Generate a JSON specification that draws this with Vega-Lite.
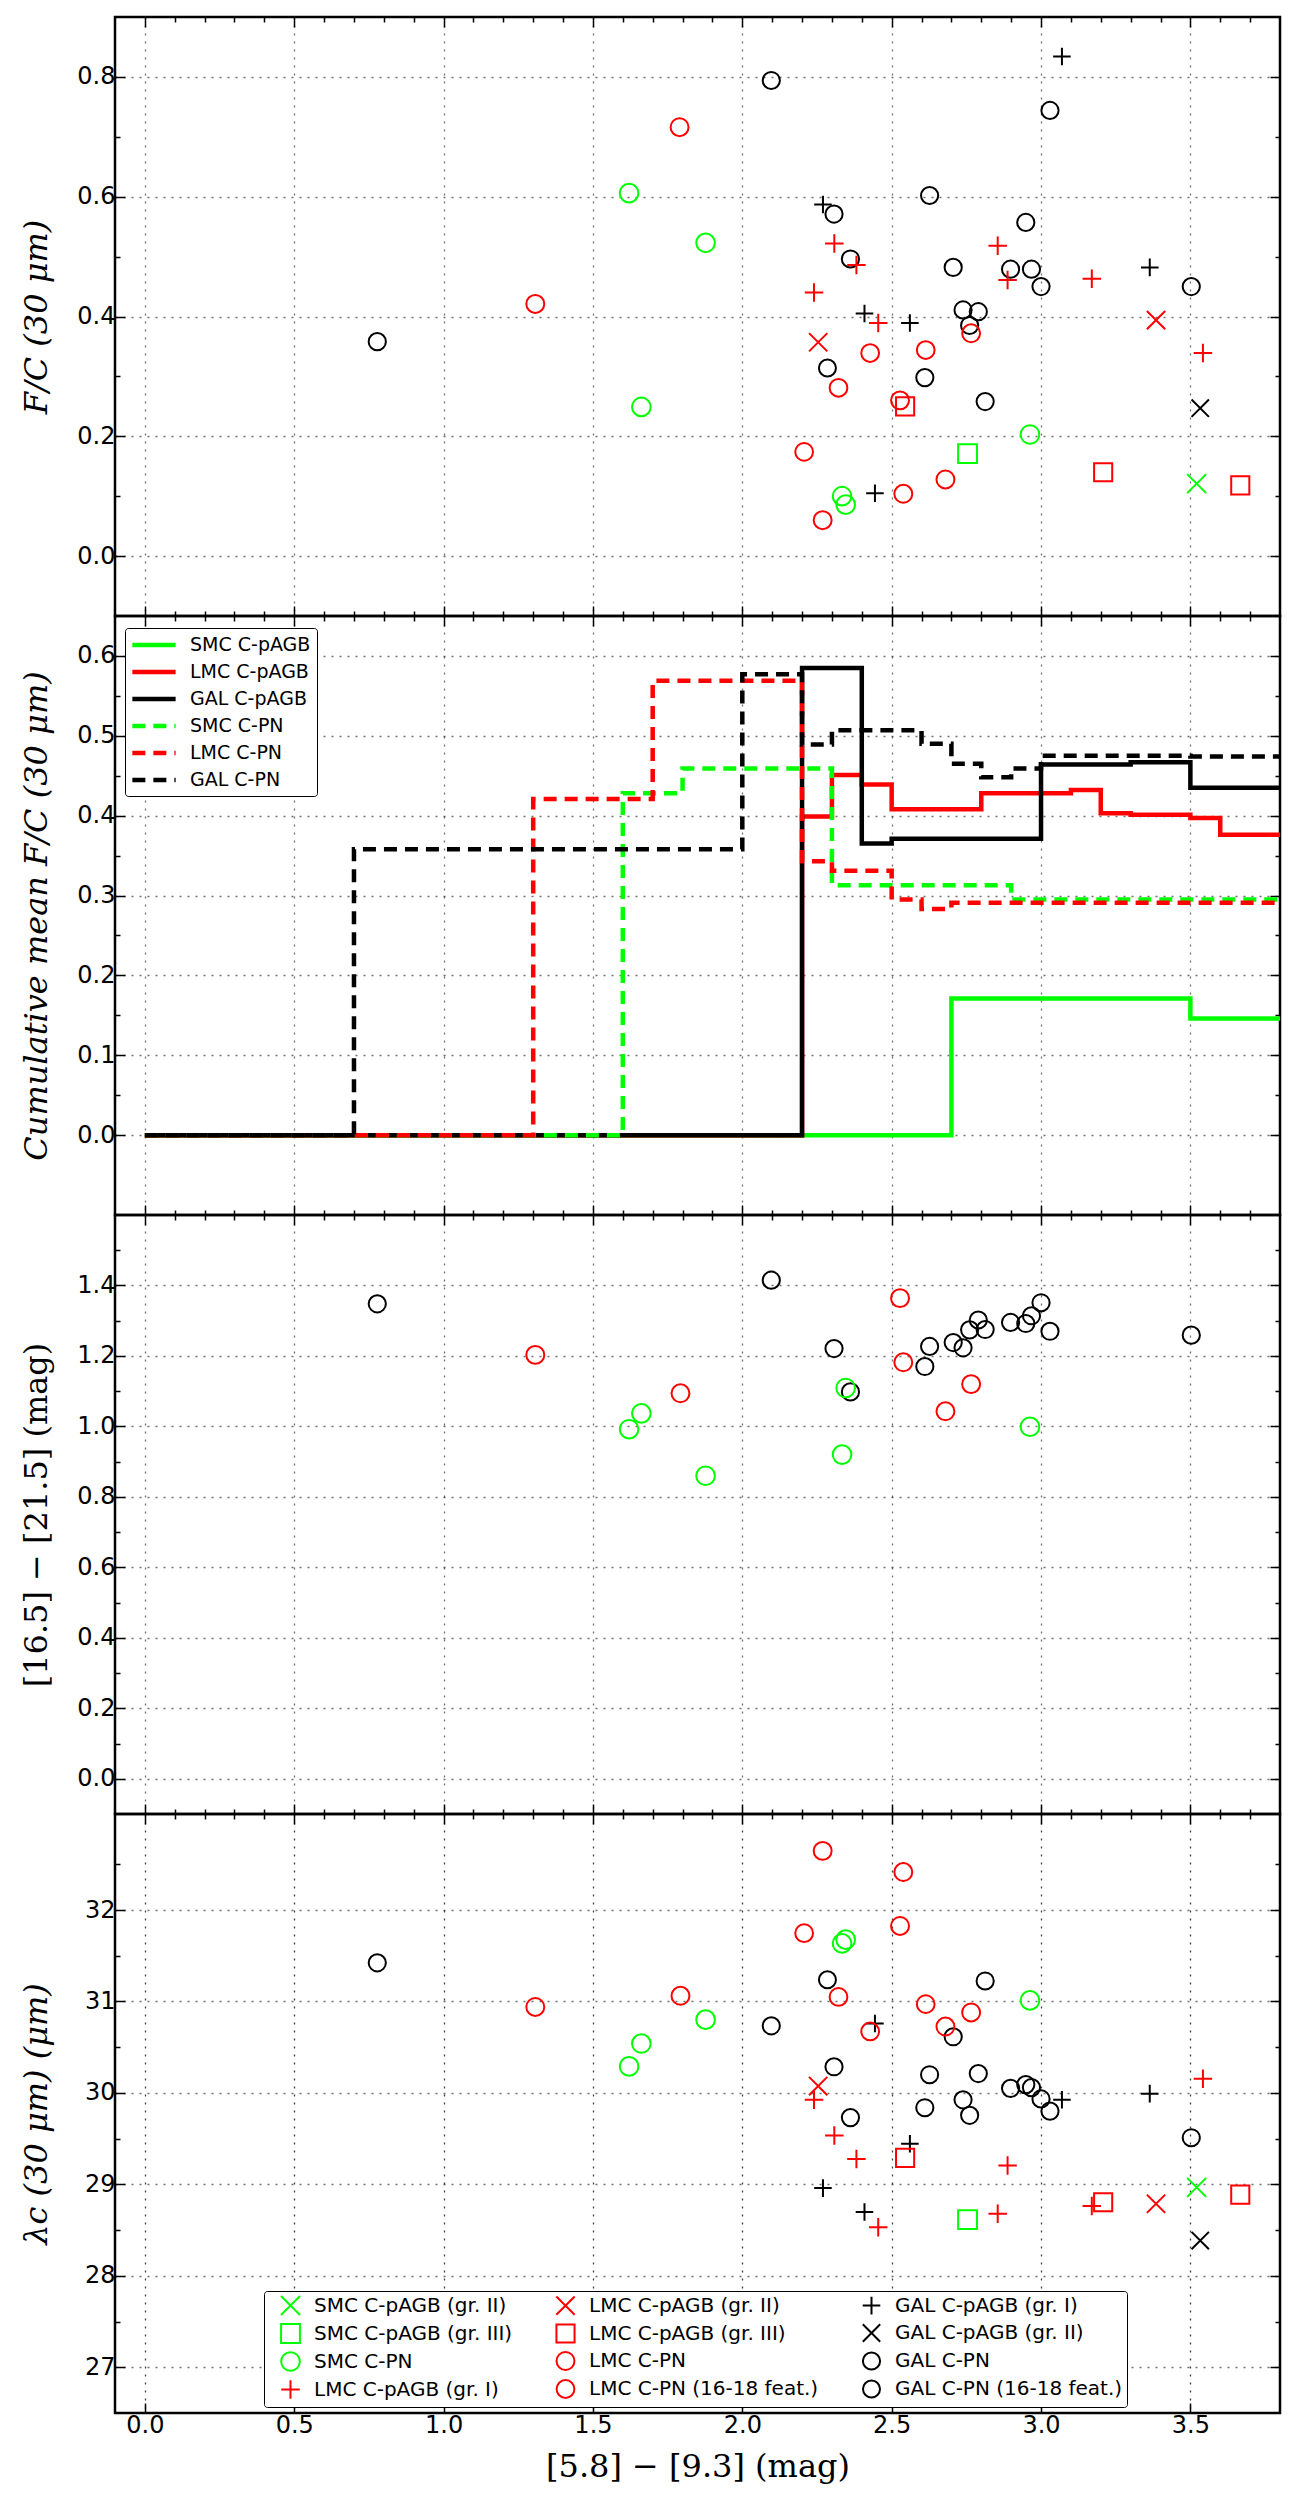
{
  "$schema": "https://vega.github.io/schema/vega-lite/v6.json",
  "background": "white",
  "padding": {"left": 18, "top": 15, "right": 12, "bottom": 5},
  "spacing": 0,
  "bounds": "flush",
  "datasets": {
    "p1": [
      {"x": 0.778, "y": 0.358, "cat": "GAL C-PN"}, {"x": 2.097, "y": 0.794, "cat": "GAL C-PN"}, {"x": 2.307, "y": 0.571, "cat": "GAL C-PN"}, {"x": 2.362, "y": 0.496, "cat": "GAL C-PN"}, {"x": 2.611, "y": 0.298, "cat": "GAL C-PN"}, {"x": 2.627, "y": 0.602, "cat": "GAL C-PN"}, {"x": 2.706, "y": 0.482, "cat": "GAL C-PN"}, {"x": 2.739, "y": 0.411, "cat": "GAL C-PN"}, {"x": 2.761, "y": 0.385, "cat": "GAL C-PN"}, {"x": 2.790, "y": 0.408, "cat": "GAL C-PN"}, {"x": 2.813, "y": 0.258, "cat": "GAL C-PN"}, {"x": 2.898, "y": 0.479, "cat": "GAL C-PN"}, {"x": 2.949, "y": 0.557, "cat": "GAL C-PN"}, {"x": 2.968, "y": 0.479, "cat": "GAL C-PN"}, {"x": 3.000, "y": 0.450, "cat": "GAL C-PN"}, {"x": 3.030, "y": 0.744, "cat": "GAL C-PN"}, {"x": 3.503, "y": 0.450, "cat": "GAL C-PN"},
      {"x": 2.285, "y": 0.314, "cat": "GAL C-PN (16-18 feat.)"},
      {"x": 2.270, "y": 0.587, "cat": "GAL C-pAGB (gr. I)"}, {"x": 2.409, "y": 0.405, "cat": "GAL C-pAGB (gr. I)"}, {"x": 2.444, "y": 0.105, "cat": "GAL C-pAGB (gr. I)"}, {"x": 2.561, "y": 0.389, "cat": "GAL C-pAGB (gr. I)"}, {"x": 3.070, "y": 0.834, "cat": "GAL C-pAGB (gr. I)"}, {"x": 3.364, "y": 0.482, "cat": "GAL C-pAGB (gr. I)"},
      {"x": 3.533, "y": 0.247, "cat": "GAL C-pAGB (gr. II)"},
      {"x": 1.307, "y": 0.421, "cat": "LMC C-PN"}, {"x": 1.790, "y": 0.716, "cat": "LMC C-PN"}, {"x": 2.269, "y": 0.060, "cat": "LMC C-PN"}, {"x": 2.528, "y": 0.260, "cat": "LMC C-PN"}, {"x": 2.539, "y": 0.104, "cat": "LMC C-PN"}, {"x": 2.680, "y": 0.128, "cat": "LMC C-PN"}, {"x": 2.766, "y": 0.372, "cat": "LMC C-PN"},
      {"x": 2.207, "y": 0.174, "cat": "LMC C-PN (16-18 feat.)"}, {"x": 2.322, "y": 0.281, "cat": "LMC C-PN (16-18 feat.)"}, {"x": 2.428, "y": 0.339, "cat": "LMC C-PN (16-18 feat.)"}, {"x": 2.614, "y": 0.344, "cat": "LMC C-PN (16-18 feat.)"},
      {"x": 2.240, "y": 0.440, "cat": "LMC C-pAGB (gr. I)"}, {"x": 2.308, "y": 0.522, "cat": "LMC C-pAGB (gr. I)"}, {"x": 2.382, "y": 0.486, "cat": "LMC C-pAGB (gr. I)"}, {"x": 2.455, "y": 0.389, "cat": "LMC C-pAGB (gr. I)"}, {"x": 2.855, "y": 0.518, "cat": "LMC C-pAGB (gr. I)"}, {"x": 2.888, "y": 0.461, "cat": "LMC C-pAGB (gr. I)"}, {"x": 3.170, "y": 0.463, "cat": "LMC C-pAGB (gr. I)"}, {"x": 3.542, "y": 0.339, "cat": "LMC C-pAGB (gr. I)"},
      {"x": 2.254, "y": 0.357, "cat": "LMC C-pAGB (gr. II)"}, {"x": 3.385, "y": 0.394, "cat": "LMC C-pAGB (gr. II)"},
      {"x": 2.545, "y": 0.250, "cat": "LMC C-pAGB (gr. III)"}, {"x": 3.208, "y": 0.140, "cat": "LMC C-pAGB (gr. III)"}, {"x": 3.667, "y": 0.118, "cat": "LMC C-pAGB (gr. III)"},
      {"x": 1.621, "y": 0.606, "cat": "SMC C-PN"}, {"x": 1.662, "y": 0.249, "cat": "SMC C-PN"}, {"x": 1.877, "y": 0.523, "cat": "SMC C-PN"}, {"x": 2.334, "y": 0.100, "cat": "SMC C-PN"}, {"x": 2.346, "y": 0.086, "cat": "SMC C-PN"}, {"x": 2.963, "y": 0.203, "cat": "SMC C-PN"},
      {"x": 3.521, "y": 0.121, "cat": "SMC C-pAGB (gr. II)"},
      {"x": 2.754, "y": 0.171, "cat": "SMC C-pAGB (gr. III)"}
    ],
    "p3": [
      {"x": 0.778, "y": 1.348, "cat": "GAL C-PN"}, {"x": 2.097, "y": 1.415, "cat": "GAL C-PN"}, {"x": 2.307, "y": 1.221, "cat": "GAL C-PN"}, {"x": 2.362, "y": 1.098, "cat": "GAL C-PN"}, {"x": 2.611, "y": 1.170, "cat": "GAL C-PN"}, {"x": 2.627, "y": 1.227, "cat": "GAL C-PN"}, {"x": 2.706, "y": 1.238, "cat": "GAL C-PN"}, {"x": 2.739, "y": 1.223, "cat": "GAL C-PN"}, {"x": 2.761, "y": 1.274, "cat": "GAL C-PN"}, {"x": 2.790, "y": 1.302, "cat": "GAL C-PN"}, {"x": 2.813, "y": 1.275, "cat": "GAL C-PN"}, {"x": 2.898, "y": 1.295, "cat": "GAL C-PN"}, {"x": 2.949, "y": 1.292, "cat": "GAL C-PN"}, {"x": 2.968, "y": 1.314, "cat": "GAL C-PN"}, {"x": 3.000, "y": 1.351, "cat": "GAL C-PN"}, {"x": 3.030, "y": 1.270, "cat": "GAL C-PN"}, {"x": 3.503, "y": 1.259, "cat": "GAL C-PN"},
      {"x": 1.307, "y": 1.203, "cat": "LMC C-PN"}, {"x": 1.793, "y": 1.094, "cat": "LMC C-PN"}, {"x": 2.528, "y": 1.364, "cat": "LMC C-PN"}, {"x": 2.539, "y": 1.182, "cat": "LMC C-PN"}, {"x": 2.680, "y": 1.043, "cat": "LMC C-PN"}, {"x": 2.766, "y": 1.120, "cat": "LMC C-PN"},
      {"x": 1.621, "y": 0.992, "cat": "SMC C-PN"}, {"x": 1.662, "y": 1.037, "cat": "SMC C-PN"}, {"x": 1.877, "y": 0.860, "cat": "SMC C-PN"}, {"x": 2.334, "y": 0.920, "cat": "SMC C-PN"}, {"x": 2.346, "y": 1.109, "cat": "SMC C-PN"}, {"x": 2.963, "y": 0.999, "cat": "SMC C-PN"}
    ],
    "p4": [
      {"x": 0.778, "y": 31.423, "cat": "GAL C-PN"}, {"x": 2.097, "y": 30.734, "cat": "GAL C-PN"}, {"x": 2.307, "y": 30.286, "cat": "GAL C-PN"}, {"x": 2.362, "y": 29.730, "cat": "GAL C-PN"}, {"x": 2.611, "y": 29.838, "cat": "GAL C-PN"}, {"x": 2.627, "y": 30.199, "cat": "GAL C-PN"}, {"x": 2.706, "y": 30.614, "cat": "GAL C-PN"}, {"x": 2.739, "y": 29.925, "cat": "GAL C-PN"}, {"x": 2.761, "y": 29.755, "cat": "GAL C-PN"}, {"x": 2.790, "y": 30.212, "cat": "GAL C-PN"}, {"x": 2.813, "y": 31.224, "cat": "GAL C-PN"}, {"x": 2.898, "y": 30.050, "cat": "GAL C-PN"}, {"x": 2.949, "y": 30.091, "cat": "GAL C-PN"}, {"x": 2.968, "y": 30.058, "cat": "GAL C-PN"}, {"x": 3.000, "y": 29.934, "cat": "GAL C-PN"}, {"x": 3.030, "y": 29.801, "cat": "GAL C-PN"}, {"x": 3.503, "y": 29.510, "cat": "GAL C-PN"},
      {"x": 2.285, "y": 31.237, "cat": "GAL C-PN (16-18 feat.)"},
      {"x": 2.270, "y": 28.959, "cat": "GAL C-pAGB (gr. I)"}, {"x": 2.409, "y": 28.697, "cat": "GAL C-pAGB (gr. I)"}, {"x": 2.444, "y": 30.759, "cat": "GAL C-pAGB (gr. I)"}, {"x": 2.561, "y": 29.444, "cat": "GAL C-pAGB (gr. I)"}, {"x": 3.070, "y": 29.925, "cat": "GAL C-pAGB (gr. I)"}, {"x": 3.364, "y": 29.992, "cat": "GAL C-pAGB (gr. I)"},
      {"x": 3.533, "y": 28.386, "cat": "GAL C-pAGB (gr. II)"},
      {"x": 1.307, "y": 30.940, "cat": "LMC C-PN"}, {"x": 1.793, "y": 31.062, "cat": "LMC C-PN"}, {"x": 2.269, "y": 32.647, "cat": "LMC C-PN"}, {"x": 2.528, "y": 31.826, "cat": "LMC C-PN"}, {"x": 2.539, "y": 32.415, "cat": "LMC C-PN"}, {"x": 2.680, "y": 30.726, "cat": "LMC C-PN"}, {"x": 2.766, "y": 30.880, "cat": "LMC C-PN"},
      {"x": 2.207, "y": 31.747, "cat": "LMC C-PN (16-18 feat.)"}, {"x": 2.322, "y": 31.050, "cat": "LMC C-PN (16-18 feat.)"}, {"x": 2.428, "y": 30.672, "cat": "LMC C-PN (16-18 feat.)"}, {"x": 2.614, "y": 30.971, "cat": "LMC C-PN (16-18 feat.)"},
      {"x": 2.240, "y": 29.925, "cat": "LMC C-pAGB (gr. I)"}, {"x": 2.308, "y": 29.535, "cat": "LMC C-pAGB (gr. I)"}, {"x": 2.382, "y": 29.278, "cat": "LMC C-pAGB (gr. I)"}, {"x": 2.455, "y": 28.531, "cat": "LMC C-pAGB (gr. I)"}, {"x": 2.855, "y": 28.680, "cat": "LMC C-pAGB (gr. I)"}, {"x": 2.888, "y": 29.207, "cat": "LMC C-pAGB (gr. I)"}, {"x": 3.170, "y": 28.763, "cat": "LMC C-pAGB (gr. I)"}, {"x": 3.542, "y": 30.154, "cat": "LMC C-pAGB (gr. I)"},
      {"x": 2.254, "y": 30.075, "cat": "LMC C-pAGB (gr. II)"}, {"x": 3.385, "y": 28.788, "cat": "LMC C-pAGB (gr. II)"},
      {"x": 2.545, "y": 29.290, "cat": "LMC C-pAGB (gr. III)"}, {"x": 3.208, "y": 28.805, "cat": "LMC C-pAGB (gr. III)"}, {"x": 3.667, "y": 28.888, "cat": "LMC C-pAGB (gr. III)"},
      {"x": 1.621, "y": 30.290, "cat": "SMC C-PN"}, {"x": 1.662, "y": 30.540, "cat": "SMC C-PN"}, {"x": 1.877, "y": 30.801, "cat": "SMC C-PN"}, {"x": 2.334, "y": 31.635, "cat": "SMC C-PN"}, {"x": 2.346, "y": 31.676, "cat": "SMC C-PN"}, {"x": 2.963, "y": 31.012, "cat": "SMC C-PN"},
      {"x": 3.521, "y": 28.967, "cat": "SMC C-pAGB (gr. II)"},
      {"x": 2.754, "y": 28.614, "cat": "SMC C-pAGB (gr. III)"}
    ],
    "steps": [
      {"s": "SMC C-pAGB", "x": 0, "y": 0}, {"s": "SMC C-pAGB", "x": 2.7, "y": 0.171}, {"s": "SMC C-pAGB", "x": 3.5, "y": 0.146}, {"s": "SMC C-pAGB", "x": 3.8, "y": 0.146},
      {"s": "LMC C-pAGB", "x": 0, "y": 0}, {"s": "LMC C-pAGB", "x": 2.2, "y": 0.399}, {"s": "LMC C-pAGB", "x": 2.3, "y": 0.451}, {"s": "LMC C-pAGB", "x": 2.4, "y": 0.439}, {"s": "LMC C-pAGB", "x": 2.5, "y": 0.408}, {"s": "LMC C-pAGB", "x": 2.8, "y": 0.428}, {"s": "LMC C-pAGB", "x": 3.1, "y": 0.432}, {"s": "LMC C-pAGB", "x": 3.2, "y": 0.403}, {"s": "LMC C-pAGB", "x": 3.3, "y": 0.401}, {"s": "LMC C-pAGB", "x": 3.5, "y": 0.397}, {"s": "LMC C-pAGB", "x": 3.6, "y": 0.376}, {"s": "LMC C-pAGB", "x": 3.8, "y": 0.376},
      {"s": "GAL C-pAGB", "x": 0, "y": 0}, {"s": "GAL C-pAGB", "x": 2.2, "y": 0.585}, {"s": "GAL C-pAGB", "x": 2.4, "y": 0.365}, {"s": "GAL C-pAGB", "x": 2.5, "y": 0.371}, {"s": "GAL C-pAGB", "x": 3.0, "y": 0.464}, {"s": "GAL C-pAGB", "x": 3.3, "y": 0.467}, {"s": "GAL C-pAGB", "x": 3.5, "y": 0.435}, {"s": "GAL C-pAGB", "x": 3.8, "y": 0.435},
      {"s": "SMC C-PN", "x": 0, "y": 0}, {"s": "SMC C-PN", "x": 1.6, "y": 0.428}, {"s": "SMC C-PN", "x": 1.8, "y": 0.459}, {"s": "SMC C-PN", "x": 2.3, "y": 0.313}, {"s": "SMC C-PN", "x": 2.9, "y": 0.295}, {"s": "SMC C-PN", "x": 3.8, "y": 0.295},
      {"s": "LMC C-PN", "x": 0, "y": 0}, {"s": "LMC C-PN", "x": 1.3, "y": 0.421}, {"s": "LMC C-PN", "x": 1.7, "y": 0.569}, {"s": "LMC C-PN", "x": 2.2, "y": 0.343}, {"s": "LMC C-PN", "x": 2.3, "y": 0.331}, {"s": "LMC C-PN", "x": 2.5, "y": 0.295}, {"s": "LMC C-PN", "x": 2.6, "y": 0.283}, {"s": "LMC C-PN", "x": 2.7, "y": 0.291}, {"s": "LMC C-PN", "x": 3.8, "y": 0.291},
      {"s": "GAL C-PN", "x": 0, "y": 0}, {"s": "GAL C-PN", "x": 0.7, "y": 0.358}, {"s": "GAL C-PN", "x": 2.0, "y": 0.577}, {"s": "GAL C-PN", "x": 2.2, "y": 0.489}, {"s": "GAL C-PN", "x": 2.3, "y": 0.507}, {"s": "GAL C-PN", "x": 2.6, "y": 0.490}, {"s": "GAL C-PN", "x": 2.7, "y": 0.465}, {"s": "GAL C-PN", "x": 2.8, "y": 0.448}, {"s": "GAL C-PN", "x": 2.9, "y": 0.459}, {"s": "GAL C-PN", "x": 3.0, "y": 0.475}, {"s": "GAL C-PN", "x": 3.5, "y": 0.474}, {"s": "GAL C-PN", "x": 3.8, "y": 0.474}
    ]
  },
  "resolve": {
    "scale": {"x": "independent", "y": "independent", "color": "independent", "shape": "independent", "size": "independent", "strokeDash": "independent", "strokeWidth": "independent"},
    "legend": {"color": "independent", "shape": "independent", "size": "independent", "strokeDash": "independent", "strokeWidth": "independent"}
  },
  "vconcat": [
    {
      "width": 1165, "height": 599,
      "data": {"name": "p1"},
      "layer": [
        {
          "mark": {"type": "point", "filled": false, "strokeWidth": 2, "opacity": 1},
          "encoding": {
            "x": {"field": "x", "type": "quantitative", "scale": {"domain": [-0.1, 3.8], "nice": false, "zero": false}, "axis": {"values": [0,0.1,0.2,0.3,0.4,0.5,0.6,0.7,0.8,0.9,1,1.1,1.2,1.3,1.4,1.5,1.6,1.7,1.8,1.9,2,2.1,2.2,2.3,2.4,2.5,2.6,2.7,2.8,2.9,3,3.1,3.2,3.3,3.4,3.5,3.6,3.7], "labels": false, "title": null, "tickSize": {"condition": {"test": "abs(datum.value*2-round(datum.value*2))<0.01", "value": -10}, "value": -5}, "gridOpacity": {"condition": {"test": "abs(datum.value*2-round(datum.value*2))<0.01", "value": 0.75}, "value": 0}}},
            "y": {"field": "y", "type": "quantitative", "scale": {"domain": [-0.1, 0.9], "nice": false, "zero": false}, "axis": {"values": [0,0.1,0.2,0.3,0.4,0.5,0.6,0.7,0.8], "labelOverlap": false, "labelExpr": "abs(datum.value*5-round(datum.value*5))<0.01 ? format(datum.value, '.1f') : ''", "tickSize": {"condition": {"test": "abs(datum.value*5-round(datum.value*5))<0.01", "value": -10}, "value": -5}, "gridOpacity": {"condition": {"test": "abs(datum.value*5-round(datum.value*5))<0.01", "value": 0.75}, "value": 0}, "title": "F/C  (30  μm)"}},
            "color": {"field": "cat", "type": "nominal", "scale": {"domain": ["SMC C-pAGB (gr. II)", "SMC C-pAGB (gr. III)", "SMC C-PN", "LMC C-pAGB (gr. I)", "LMC C-pAGB (gr. II)", "LMC C-pAGB (gr. III)", "LMC C-PN", "LMC C-PN (16-18 feat.)", "GAL C-pAGB (gr. I)", "GAL C-pAGB (gr. II)", "GAL C-PN", "GAL C-PN (16-18 feat.)"], "range": ["#00ff00", "#00ff00", "#00ff00", "#ff0000", "#ff0000", "#ff0000", "#ff0000", "#ff0000", "#000000", "#000000", "#000000", "#000000"]}, "legend": null},
            "shape": {"field": "cat", "type": "nominal", "scale": {"domain": ["SMC C-pAGB (gr. II)", "SMC C-pAGB (gr. III)", "SMC C-PN", "LMC C-pAGB (gr. I)", "LMC C-pAGB (gr. II)", "LMC C-pAGB (gr. III)", "LMC C-PN", "LMC C-PN (16-18 feat.)", "GAL C-pAGB (gr. I)", "GAL C-pAGB (gr. II)", "GAL C-PN", "GAL C-PN (16-18 feat.)"], "range": ["M-1,-1L1,1M-1,1L1,-1", "square", "circle", "M-1,0L1,0M0,-1L0,1", "M-1,-1L1,1M-1,1L1,-1", "square", "circle", "circle", "M-1,0L1,0M0,-1L0,1", "M-1,-1L1,1M-1,1L1,-1", "circle", "circle"]}, "legend": null},
            "size": {"field": "cat", "type": "nominal", "scale": {"domain": ["SMC C-pAGB (gr. II)", "SMC C-pAGB (gr. III)", "SMC C-PN", "LMC C-pAGB (gr. I)", "LMC C-pAGB (gr. II)", "LMC C-pAGB (gr. III)", "LMC C-PN", "LMC C-PN (16-18 feat.)", "GAL C-pAGB (gr. I)", "GAL C-pAGB (gr. II)", "GAL C-PN", "GAL C-PN (16-18 feat.)"], "range": [361, 289, 300, 361, 361, 289, 300, 80, 361, 361, 300, 80]}, "legend": null}
          }
        },
        {
          "mark": {"type": "point", "opacity": 0},
          "encoding": {
            "x": {"field": "x", "type": "quantitative", "scale": {"domain": [-0.1, 3.8], "nice": false, "zero": false}, "axis": {"orient": "top", "grid": false, "labels": false, "title": null, "values": [0,0.1,0.2,0.3,0.4,0.5,0.6,0.7,0.8,0.9,1,1.1,1.2,1.3,1.4,1.5,1.6,1.7,1.8,1.9,2,2.1,2.2,2.3,2.4,2.5,2.6,2.7,2.8,2.9,3,3.1,3.2,3.3,3.4,3.5,3.6,3.7], "tickSize": {"condition": {"test": "abs(datum.value*2-round(datum.value*2))<0.01", "value": -10}, "value": -5}}},
            "y": {"field": "y", "type": "quantitative", "scale": {"domain": [-0.1, 0.9], "nice": false, "zero": false}, "axis": {"orient": "right", "grid": false, "labels": false, "title": null, "minExtent": 0, "maxExtent": 0, "values": [0,0.1,0.2,0.3,0.4,0.5,0.6,0.7,0.8], "tickSize": {"condition": {"test": "abs(datum.value*5-round(datum.value*5))<0.01", "value": -10}, "value": -5}}}
          }
        }
      ],
      "resolve": {"axis": {"x": "independent", "y": "independent"}}
    },
    {
      "width": 1165, "height": 599,
      "data": {"name": "steps"},
      "layer": [
        {
          "mark": {"type": "line", "interpolate": "step-after"},
          "encoding": {
            "x": {"field": "x", "type": "quantitative", "scale": {"domain": [-0.1, 3.8], "nice": false, "zero": false}, "axis": {"values": [0,0.1,0.2,0.3,0.4,0.5,0.6,0.7,0.8,0.9,1,1.1,1.2,1.3,1.4,1.5,1.6,1.7,1.8,1.9,2,2.1,2.2,2.3,2.4,2.5,2.6,2.7,2.8,2.9,3,3.1,3.2,3.3,3.4,3.5,3.6,3.7], "labels": false, "title": null, "tickSize": {"condition": {"test": "abs(datum.value*2-round(datum.value*2))<0.01", "value": -10}, "value": -5}, "gridOpacity": {"condition": {"test": "abs(datum.value*2-round(datum.value*2))<0.01", "value": 0.75}, "value": 0}}},
            "y": {"field": "y", "type": "quantitative", "scale": {"domain": [-0.1, 0.65], "nice": false, "zero": false}, "axis": {"values": [0,0.05,0.1,0.15,0.2,0.25,0.3,0.35,0.4,0.45,0.5,0.55,0.6], "labelOverlap": false, "labelExpr": "abs(datum.value*10-round(datum.value*10))<0.01 ? format(datum.value, '.1f') : ''", "tickSize": {"condition": {"test": "abs(datum.value*10-round(datum.value*10))<0.01", "value": -10}, "value": -5}, "gridOpacity": {"condition": {"test": "abs(datum.value*10-round(datum.value*10))<0.01", "value": 0.75}, "value": 0}, "title": "Cumulative  mean  F/C  (30  μm)"}},
            "color": {"field": "s", "type": "nominal", "scale": {"domain": ["SMC C-pAGB", "LMC C-pAGB", "GAL C-pAGB", "SMC C-PN", "LMC C-PN", "GAL C-PN"], "range": ["#00ff00", "#ff0000", "#000000", "#00ff00", "#ff0000", "#000000"]},
              "legend": {"orient": "none", "legendX": 10, "legendY": 12, "title": null, "padding": 6, "rowPadding": 6, "labelOffset": 25, "symbolOffset": 12, "symbolSize": 300, "symbolType": "M-2.5,0L2.5,0", "labelFontSize": 19, "labelLimit": 400}},
            "strokeDash": {"field": "s", "type": "nominal", "scale": {"domain": ["SMC C-pAGB", "LMC C-pAGB", "GAL C-pAGB", "SMC C-PN", "LMC C-PN", "GAL C-PN"], "range": [[1, 0], [1, 0], [1, 0], [13, 8], [13, 8], [13, 8]]}},
            "strokeWidth": {"field": "s", "type": "nominal", "scale": {"domain": ["SMC C-pAGB", "LMC C-pAGB", "GAL C-pAGB", "SMC C-PN", "LMC C-PN", "GAL C-PN"], "range": [4.5, 4.5, 4.5, 2.6, 2.6, 2.6]}}
          }
        },
        {
          "mark": {"type": "point", "opacity": 0},
          "encoding": {
            "x": {"field": "x", "type": "quantitative", "scale": {"domain": [-0.1, 3.8], "nice": false, "zero": false}, "axis": {"orient": "top", "grid": false, "labels": false, "title": null, "values": [0,0.1,0.2,0.3,0.4,0.5,0.6,0.7,0.8,0.9,1,1.1,1.2,1.3,1.4,1.5,1.6,1.7,1.8,1.9,2,2.1,2.2,2.3,2.4,2.5,2.6,2.7,2.8,2.9,3,3.1,3.2,3.3,3.4,3.5,3.6,3.7], "tickSize": {"condition": {"test": "abs(datum.value*2-round(datum.value*2))<0.01", "value": -10}, "value": -5}}},
            "y": {"field": "y", "type": "quantitative", "scale": {"domain": [-0.1, 0.65], "nice": false, "zero": false}, "axis": {"orient": "right", "grid": false, "labels": false, "title": null, "minExtent": 0, "maxExtent": 0, "values": [0,0.05,0.1,0.15,0.2,0.25,0.3,0.35,0.4,0.45,0.5,0.55,0.6], "tickSize": {"condition": {"test": "abs(datum.value*10-round(datum.value*10))<0.01", "value": -10}, "value": -5}}}
          }
        }
      ],
      "resolve": {"axis": {"x": "independent", "y": "independent"}}
    },
    {
      "width": 1165, "height": 599,
      "data": {"name": "p3"},
      "layer": [
        {
          "mark": {"type": "point", "filled": false, "strokeWidth": 2, "opacity": 1},
          "encoding": {
            "x": {"field": "x", "type": "quantitative", "scale": {"domain": [-0.1, 3.8], "nice": false, "zero": false}, "axis": {"values": [0,0.1,0.2,0.3,0.4,0.5,0.6,0.7,0.8,0.9,1,1.1,1.2,1.3,1.4,1.5,1.6,1.7,1.8,1.9,2,2.1,2.2,2.3,2.4,2.5,2.6,2.7,2.8,2.9,3,3.1,3.2,3.3,3.4,3.5,3.6,3.7], "labels": false, "title": null, "tickSize": {"condition": {"test": "abs(datum.value*2-round(datum.value*2))<0.01", "value": -10}, "value": -5}, "gridOpacity": {"condition": {"test": "abs(datum.value*2-round(datum.value*2))<0.01", "value": 0.75}, "value": 0}}},
            "y": {"field": "y", "type": "quantitative", "scale": {"domain": [-0.1, 1.6], "nice": false, "zero": false}, "axis": {"values": [0,0.1,0.2,0.3,0.4,0.5,0.6,0.7,0.8,0.9,1,1.1,1.2,1.3,1.4,1.5], "labelOverlap": false, "labelExpr": "abs(datum.value*5-round(datum.value*5))<0.01 ? format(datum.value, '.1f') : ''", "tickSize": {"condition": {"test": "abs(datum.value*5-round(datum.value*5))<0.01", "value": -10}, "value": -5}, "gridOpacity": {"condition": {"test": "abs(datum.value*5-round(datum.value*5))<0.01", "value": 0.75}, "value": 0}, "title": "[16.5] − [21.5]  (mag)", "titleFontStyle": "normal"}},
            "color": {"field": "cat", "type": "nominal", "scale": {"domain": ["SMC C-pAGB (gr. II)", "SMC C-pAGB (gr. III)", "SMC C-PN", "LMC C-pAGB (gr. I)", "LMC C-pAGB (gr. II)", "LMC C-pAGB (gr. III)", "LMC C-PN", "LMC C-PN (16-18 feat.)", "GAL C-pAGB (gr. I)", "GAL C-pAGB (gr. II)", "GAL C-PN", "GAL C-PN (16-18 feat.)"], "range": ["#00ff00", "#00ff00", "#00ff00", "#ff0000", "#ff0000", "#ff0000", "#ff0000", "#ff0000", "#000000", "#000000", "#000000", "#000000"]}, "legend": null},
            "shape": {"field": "cat", "type": "nominal", "scale": {"domain": ["SMC C-pAGB (gr. II)", "SMC C-pAGB (gr. III)", "SMC C-PN", "LMC C-pAGB (gr. I)", "LMC C-pAGB (gr. II)", "LMC C-pAGB (gr. III)", "LMC C-PN", "LMC C-PN (16-18 feat.)", "GAL C-pAGB (gr. I)", "GAL C-pAGB (gr. II)", "GAL C-PN", "GAL C-PN (16-18 feat.)"], "range": ["M-1,-1L1,1M-1,1L1,-1", "square", "circle", "M-1,0L1,0M0,-1L0,1", "M-1,-1L1,1M-1,1L1,-1", "square", "circle", "circle", "M-1,0L1,0M0,-1L0,1", "M-1,-1L1,1M-1,1L1,-1", "circle", "circle"]}, "legend": null},
            "size": {"field": "cat", "type": "nominal", "scale": {"domain": ["SMC C-pAGB (gr. II)", "SMC C-pAGB (gr. III)", "SMC C-PN", "LMC C-pAGB (gr. I)", "LMC C-pAGB (gr. II)", "LMC C-pAGB (gr. III)", "LMC C-PN", "LMC C-PN (16-18 feat.)", "GAL C-pAGB (gr. I)", "GAL C-pAGB (gr. II)", "GAL C-PN", "GAL C-PN (16-18 feat.)"], "range": [361, 289, 300, 361, 361, 289, 300, 80, 361, 361, 300, 80]}, "legend": null}
          }
        },
        {
          "mark": {"type": "point", "opacity": 0},
          "encoding": {
            "x": {"field": "x", "type": "quantitative", "scale": {"domain": [-0.1, 3.8], "nice": false, "zero": false}, "axis": {"orient": "top", "grid": false, "labels": false, "title": null, "values": [0,0.1,0.2,0.3,0.4,0.5,0.6,0.7,0.8,0.9,1,1.1,1.2,1.3,1.4,1.5,1.6,1.7,1.8,1.9,2,2.1,2.2,2.3,2.4,2.5,2.6,2.7,2.8,2.9,3,3.1,3.2,3.3,3.4,3.5,3.6,3.7], "tickSize": {"condition": {"test": "abs(datum.value*2-round(datum.value*2))<0.01", "value": -10}, "value": -5}}},
            "y": {"field": "y", "type": "quantitative", "scale": {"domain": [-0.1, 1.6], "nice": false, "zero": false}, "axis": {"orient": "right", "grid": false, "labels": false, "title": null, "minExtent": 0, "maxExtent": 0, "values": [0,0.1,0.2,0.3,0.4,0.5,0.6,0.7,0.8,0.9,1,1.1,1.2,1.3,1.4,1.5], "tickSize": {"condition": {"test": "abs(datum.value*5-round(datum.value*5))<0.01", "value": -10}, "value": -5}}}
          }
        }
      ],
      "resolve": {"axis": {"x": "independent", "y": "independent"}}
    },
    {
      "width": 1165, "height": 599,
      "data": {"name": "p4"},
      "layer": [
        {
          "mark": {"type": "point", "filled": false, "strokeWidth": 2, "opacity": 1},
          "encoding": {
            "x": {"field": "x", "type": "quantitative", "scale": {"domain": [-0.1, 3.8], "nice": false, "zero": false}, "axis": {"values": [0, 0.5, 1, 1.5, 2, 2.5, 3, 3.5], "format": ".1f", "labelOverlap": false, "labelFlush": false, "grid": true, "title": "[5.8] − [9.3]  (mag)", "titleFontStyle": "normal", "tickSize": -10}},
            "y": {"field": "y", "type": "quantitative", "scale": {"domain": [26.5, 33.05], "nice": false, "zero": false}, "axis": {"values": [27,27.5,28,28.5,29,29.5,30,30.5,31,31.5,32,32.5], "labelOverlap": false, "labelExpr": "datum.value % 1 == 0 ? format(datum.value, 'd') : ''", "tickSize": {"condition": {"test": "datum.value % 1 == 0", "value": -10}, "value": -5}, "gridOpacity": {"condition": {"test": "datum.value % 1 == 0", "value": 0.75}, "value": 0}, "title": "λc  (30  μm)  (μm)"}},
            "color": {"field": "cat", "type": "nominal", "scale": {"domain": ["SMC C-pAGB (gr. II)", "SMC C-pAGB (gr. III)", "SMC C-PN", "LMC C-pAGB (gr. I)", "LMC C-pAGB (gr. II)", "LMC C-pAGB (gr. III)", "LMC C-PN", "LMC C-PN (16-18 feat.)", "GAL C-pAGB (gr. I)", "GAL C-pAGB (gr. II)", "GAL C-PN", "GAL C-PN (16-18 feat.)"], "range": ["#00ff00", "#00ff00", "#00ff00", "#ff0000", "#ff0000", "#ff0000", "#ff0000", "#ff0000", "#000000", "#000000", "#000000", "#000000"]},
              "legend": {"orient": "none", "legendX": 149, "legendY": 477, "columns": 3, "title": null, "padding": 4, "rowPadding": 1, "columnPadding": 30, "labelOffset": 13, "symbolOffset": 12, "symbolStrokeWidth": 2, "labelFontSize": 20, "labelLimit": 400}},
            "shape": {"field": "cat", "type": "nominal", "scale": {"domain": ["SMC C-pAGB (gr. II)", "SMC C-pAGB (gr. III)", "SMC C-PN", "LMC C-pAGB (gr. I)", "LMC C-pAGB (gr. II)", "LMC C-pAGB (gr. III)", "LMC C-PN", "LMC C-PN (16-18 feat.)", "GAL C-pAGB (gr. I)", "GAL C-pAGB (gr. II)", "GAL C-PN", "GAL C-PN (16-18 feat.)"], "range": ["M-1,-1L1,1M-1,1L1,-1", "square", "circle", "M-1,0L1,0M0,-1L0,1", "M-1,-1L1,1M-1,1L1,-1", "square", "circle", "circle", "M-1,0L1,0M0,-1L0,1", "M-1,-1L1,1M-1,1L1,-1", "circle", "circle"]}},
            "size": {"field": "cat", "type": "nominal", "scale": {"domain": ["SMC C-pAGB (gr. II)", "SMC C-pAGB (gr. III)", "SMC C-PN", "LMC C-pAGB (gr. I)", "LMC C-pAGB (gr. II)", "LMC C-pAGB (gr. III)", "LMC C-PN", "LMC C-PN (16-18 feat.)", "GAL C-pAGB (gr. I)", "GAL C-pAGB (gr. II)", "GAL C-PN", "GAL C-PN (16-18 feat.)"], "range": [361, 289, 300, 361, 361, 289, 300, 80, 361, 361, 300, 80]}}
          }
        },
        {
          "mark": {"type": "point", "opacity": 0},
          "encoding": {
            "x": {"field": "x", "type": "quantitative", "scale": {"domain": [-0.1, 3.8], "nice": false, "zero": false}, "axis": {"orient": "top", "grid": false, "labels": false, "title": null, "values": [0,0.1,0.2,0.3,0.4,0.5,0.6,0.7,0.8,0.9,1,1.1,1.2,1.3,1.4,1.5,1.6,1.7,1.8,1.9,2,2.1,2.2,2.3,2.4,2.5,2.6,2.7,2.8,2.9,3,3.1,3.2,3.3,3.4,3.5,3.6,3.7], "tickSize": {"condition": {"test": "abs(datum.value*2-round(datum.value*2))<0.01", "value": -10}, "value": -5}}},
            "y": {"field": "y", "type": "quantitative", "scale": {"domain": [26.5, 33.05], "nice": false, "zero": false}, "axis": {"orient": "right", "grid": false, "labels": false, "title": null, "minExtent": 0, "maxExtent": 0, "values": [27,27.5,28,28.5,29,29.5,30,30.5,31,31.5,32,32.5], "tickSize": {"condition": {"test": "datum.value % 1 == 0", "value": -10}, "value": -5}}}
          }
        }
      ],
      "resolve": {"axis": {"x": "independent", "y": "independent"}}
    }
  ],
  "config": {
    "font": "DejaVu Sans",
    "view": {"stroke": "#000000", "strokeWidth": 2.5},
    "axis": {"domain": false, "grid": true, "gridColor": "#000000", "gridOpacity": 0.75, "gridDash": [2, 6], "gridWidth": 1.3, "ticks": true, "tickColor": "#000000", "tickWidth": 1.5, "labelFont": "DejaVu Sans", "labelFontSize": 24, "labelColor": "#000000", "labelPadding": 10, "titleFont": "DejaVu Serif", "titleFontSize": 32, "titleFontWeight": "normal", "titleColor": "#000000"},
    "axisX": {"titlePadding": 14},
    "axisY": {"minExtent": 47, "maxExtent": 47, "titlePadding": 15, "titleFontStyle": "italic"},
    "legend": {"labelFont": "DejaVu Sans", "labelFontSize": 18.5, "labelColor": "#000000", "strokeColor": "#000000", "fillColor": "#ffffff", "cornerRadius": 3}
  }
}
